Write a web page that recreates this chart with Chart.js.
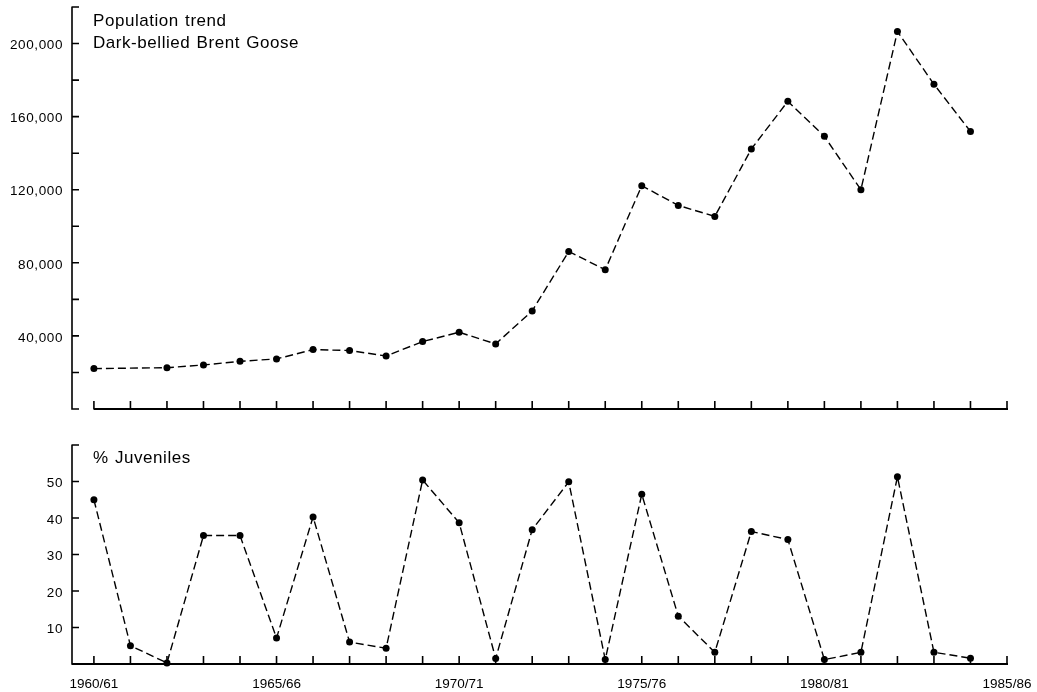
<!DOCTYPE html>
<html>
<head>
<meta charset="utf-8">
<title>Dark-bellied Brent Goose</title>
<script src="https://cdn.jsdelivr.net/npm/chart.js@4.4.1/dist/chart.umd.min.js"></script>
<style>
  html, body { margin: 0; padding: 0; background: #fff; }
  #wrap { position: relative; width: 1037px; height: 692px; overflow: hidden; }
  canvas { position: absolute; left: 0; top: 0; }
  .cap {
    position: absolute; left: 93px;
    font: 17px "Liberation Sans", Arial, sans-serif;
    letter-spacing: 0.55px; word-spacing: 1px;
    line-height: 17px; color: #000; white-space: nowrap;
  }
</style>
</head>
<body>
<div id="wrap">
  <canvas id="pop" width="1037" height="692"></canvas>
  <canvas id="juv" width="1037" height="692"></canvas>
  <div class="cap" style="top:12px">Population trend</div>
  <div class="cap" style="top:34px">Dark-bellied Brent Goose</div>
  <div class="cap" style="top:449px">% Juveniles</div>
</div>
<script>
// Winter seasons on the x axis
const seasons = [
  '1960/61','1961/62','1962/63','1963/64','1964/65','1965/66','1966/67','1967/68','1968/69','1969/70',
  '1970/71','1971/72','1972/73','1973/74','1974/75','1975/76','1976/77','1977/78','1978/79','1979/80',
  '1980/81','1981/82','1982/83','1983/84','1984/85','1985/86'
];
const xTickLabels = ['1960/61','1965/66','1970/71','1975/76','1980/81','1985/86'];

// Total population counts (birds); null = no count that season
const popValues = [
  22100, null, 22600, 24100, 26100, 27400, 32500, 32000, 29000, 36900,
  42000, 35600, 53700, 86200, 76200, 122200, 111400, 105400, 142300, 168400,
  149200, 120000, 206600, 177700, 151900, null
];

// Share of juveniles in the flocks (%)
const juvValues = [
  45.0, 5.0, 0.3, 35.2, 35.2, 7.1, 40.3, 6.0, 4.3, 50.4,
  38.7, 1.5, 36.8, 49.9, 1.2, 46.5, 13.1, 3.2, 36.3, 34.1,
  1.2, 3.2, 51.3, 3.2, 1.6, null
];

const popTicks = [0, 20000, 40000, 60000, 80000, 100000, 120000, 140000, 160000, 180000, 200000, 220000];
const popTickLabels = ['', '', '40,000', '', '80,000', '', '120,000', '', '160,000', '', '200,000', ''];
const juvTicks = [0, 10, 20, 30, 40, 50, 60];
const juvTickLabels = ['', '10', '20', '30', '40', '50', ''];

const INK = '#000';
const W = 1037, H = 692;
const AXIS_X = 72;          // where the vertical axis sits
const RIGHT_PAD = 30;
const FONT = '"Liberation Sans", Arial, sans-serif';

// Hand-drawn style frame: axis lines with short inward ticks
function axisFrame(xFromAxis) {
  return {
    id: 'axisFrame',
    afterDraw(chart) {
      const { ctx, chartArea: a, scales: { x, y } } = chart;
      const yTop = y.getPixelForValue(y.max);
      const y0 = y.getPixelForValue(0);
      ctx.save();
      ctx.strokeStyle = INK;
      ctx.lineCap = 'butt';
      // vertical axis and its ticks
      ctx.lineWidth = 1.6;
      ctx.beginPath();
      ctx.moveTo(a.left, yTop - 0.5);
      ctx.lineTo(a.left, y0 + 0.8);
      y.ticks.forEach(t => {
        const py = y.getPixelForValue(t.value);
        ctx.moveTo(a.left, py);
        ctx.lineTo(a.left + 7, py);
      });
      ctx.stroke();
      // horizontal axis and its ticks
      const xs = xFromAxis ? a.left : x.getPixelForValue(0);
      const xe = x.getPixelForValue(seasons.length - 1) + 1;
      ctx.lineWidth = 1.9;
      ctx.beginPath();
      ctx.moveTo(xs, y0);
      ctx.lineTo(xe, y0);
      ctx.stroke();
      ctx.lineWidth = 1.6;
      ctx.beginPath();
      x.ticks.forEach(t => {
        const px = x.getPixelForValue(t.value);
        ctx.moveTo(px, y0 + 0.5);
        ctx.lineTo(px, y0 - 8);
      });
      ctx.stroke();
      ctx.restore();
    }
  };
}

// Slightly spaced-out numerals on the vertical axis
const spacedYLabels = {
  id: 'spacedYLabels',
  beforeDraw(chart) {
    const s = chart.scales.y;
    if (s && !s._spaced) {
      const orig = s.drawLabels.bind(s);
      s.drawLabels = function (area) {
        const c = this.ctx;
        c.save();
        c.letterSpacing = '0.6px';
        orig(area);
        c.restore();
      };
      s._spaced = true;
    }
  }
};

function makeChart(id, values, yTicks, yLabels, top, bottom, showX, xFromAxis) {
  const data = seasons.map((s, i) => ({ x: i, y: values[i] }));
  return new Chart(document.getElementById(id), {
    type: 'line',
    data: {
      datasets: [{
        data,
        borderColor: INK,
        borderWidth: 1.4,
        borderDash: [8, 4],
        pointRadius: 3.5,
        pointBackgroundColor: INK,
        pointBorderWidth: 0,
        spanGaps: true,
        tension: 0,
        clip: false
      }]
    },
    options: {
      responsive: false,
      animation: false,
      events: [],
      layout: { padding: { top: top, right: RIGHT_PAD, left: 0, bottom: 0 } },
      plugins: { legend: { display: false }, tooltip: { enabled: false } },
      scales: {
        x: {
          type: 'linear',
          min: -0.6,
          max: seasons.length - 1,
          grid: { display: false, drawTicks: false },
          border: { display: false },
          afterBuildTicks: sc => { sc.ticks = seasons.map((s, i) => ({ value: i })); },
          afterFit: sc => { sc.height = H - bottom; sc.paddingLeft = 0; sc.paddingRight = 0; },
          ticks: {
            display: showX,
            autoSkip: false,
            maxRotation: 0,
            padding: 12,
            color: INK,
            font: { family: FONT, size: 13.5 },
            callback: v => (xTickLabels.includes(seasons[v]) ? seasons[v] : '')
          }
        },
        y: {
          type: 'linear',
          min: yTicks[0],
          max: yTicks[yTicks.length - 1],
          grid: { display: false, drawTicks: false },
          border: { display: false },
          afterBuildTicks: sc => { sc.ticks = yTicks.map(v => ({ value: v })); },
          afterFit: sc => { sc.width = AXIS_X; sc.paddingTop = 0; sc.paddingBottom = 0; },
          ticks: {
            autoSkip: false,
            padding: 9,
            labelOffset: 2,
            color: INK,
            font: { family: FONT, size: 13.5 },
            callback: (v) => yLabels[yTicks.indexOf(v)]
          }
        }
      }
    },
    plugins: [axisFrame(xFromAxis), spacedYLabels]
  });
}

makeChart('pop', popValues, popTicks, popTickLabels, 7, 409, false, false);
makeChart('juv', juvValues, juvTicks, juvTickLabels, 445, 664, true, true);
</script>
</body>
</html>
